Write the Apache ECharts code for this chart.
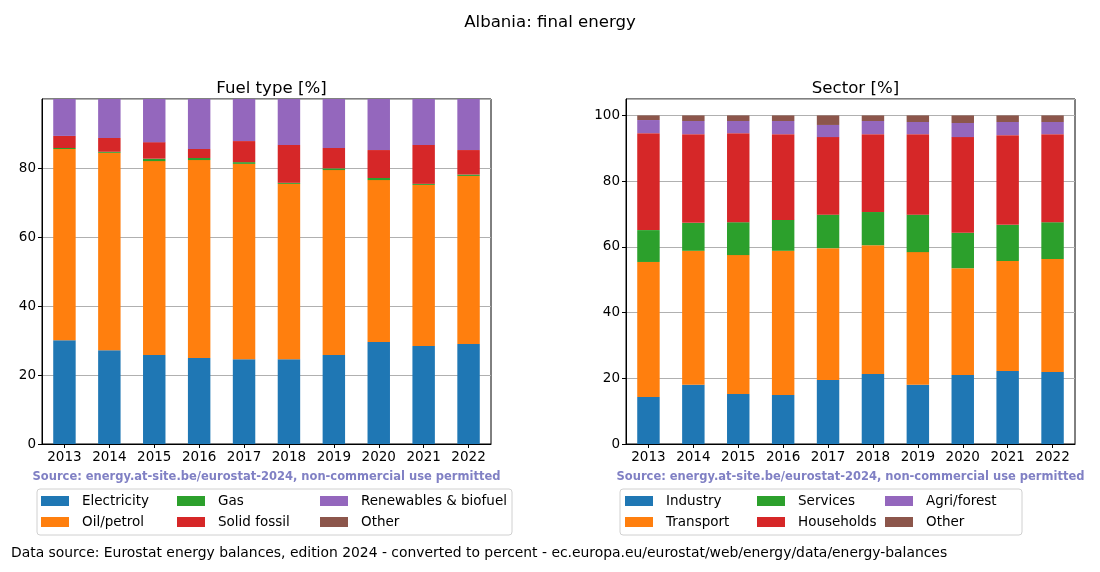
<!DOCTYPE html>
<html><head><meta charset="utf-8">
<script src="https://cdn.jsdelivr.net/npm/echarts@6/dist/echarts.min.js"></script>
<style>html,body{margin:0;padding:0;background:#fff}#c{width:1100px;height:572px}</style>
</head><body><div id="c"></div>
<script>
const years = ['2013','2014','2015','2016','2017','2018','2019','2020','2021','2022'];
const fuelNames = ['Electricity','Oil/petrol','Gas','Solid fossil','Renewables & biofuel','Other'];
const electricity = [30.1,27.2,25.8,24.9,24.6,24.6,25.8,29.6,28.4,29.0];
const oilPetrol   = [55.4,57.2,56.2,57.4,56.6,50.8,53.6,46.9,46.7,48.7];
const gas         = [0.3,0.3,0.7,0.6,0.5,0.3,0.5,0.6,0.3,0.4];
const solidFossil = [3.5,4.0,4.8,2.6,6.1,11.0,5.9,8.1,11.3,7.1];
const renewables  = [10.7,11.3,12.5,14.5,12.2,13.3,14.2,14.8,13.3,14.8];
const fuelOther   = [0,0,0,0,0,0,0,0,0,0];

const sectorNames = ['Industry','Transport','Services','Households','Agri/forest','Other'];
const industry   = [14.3,18.0,15.2,14.9,19.5,21.3,18.0,21.0,22.2,21.9];
const transport  = [41.1,40.8,42.3,43.9,40.1,39.2,40.4,32.5,33.5,34.4];
const services   = [9.7,8.5,10.0,9.4,10.2,10.1,11.4,10.8,11.0,11.2];
const households = [29.5,27.0,27.1,26.1,23.6,23.7,24.5,29.1,27.3,26.8];
const agriForest = [4.0,4.0,3.7,4.0,3.7,4.0,3.7,4.3,4.0,3.7];
const sectorOther= [1.4,1.7,1.7,1.7,2.9,1.7,2.0,2.3,2.0,2.0];

const colors = ['#1f77b4','#ff7f0e','#2ca02c','#d62728','#9467bd','#8c564b'];
const FONT = 'DejaVu Sans';
const FS = 13.5;

const fuelData = [electricity,oilPetrol,gas,solidFossil,renewables,fuelOther];
const sectorData = [industry,transport,services,households,agriForest,sectorOther];

function xAxis(gi){
  return {type:'category', gridIndex:gi, data:years, boundaryGap:true,
    axisLine:{show:true,lineStyle:{color:'#000',width:1}},
    axisTick:{show:true,alignWithLabel:true,interval:0,length:4,lineStyle:{color:'#000'}},
    axisLabel:{color:'#000',fontFamily:FONT,fontSize:FS,margin:6,interval:0},
    splitLine:{show:false}};
}
function yAxis(gi,max){
  return {type:'value', gridIndex:gi, min:0, max:max, interval:20,
    axisLine:{show:true,lineStyle:{color:'#000',width:1}},
    axisTick:{show:true,length:4,lineStyle:{color:'#000'}},
    axisLabel:{color:'#000',fontFamily:FONT,fontSize:FS,margin:6,showMaxLabel:false},
    splitLine:{show:true,lineStyle:{color:'#b0b0b0',width:1}}};
}
const series = [];
fuelNames.forEach((n,i)=>series.push({name:n,type:'bar',stack:'fuel',xAxisIndex:0,yAxisIndex:0,
  data:fuelData[i],barWidth:'50%',itemStyle:{color:colors[i]}}));
const sn = sectorNames.map((n,i)=>n+(i===5?' ':''));
sectorNames.forEach((n,i)=>series.push({name:sn[i],type:'bar',stack:'sector',xAxisIndex:1,yAxisIndex:1,
  data:sectorData[i],barWidth:'50%',itemStyle:{color:colors[i]}}));

function legend(names,left,top){
  return {orient:'vertical',left:left,top:top,data:names,itemWidth:28,itemHeight:10,itemGap:7,
    icon:'rect',padding:0,
    textStyle:{color:'#000',fontFamily:FONT,fontSize:FS,padding:[0,0,0,8]}};
}
const legends = [
  legend([fuelNames[0],fuelNames[1]],41,494),
  legend([fuelNames[2],fuelNames[3]],177,494),
  legend([fuelNames[4],fuelNames[5]],320,494),
  legend([sn[0],sn[1]],625,494),
  legend([sn[2],sn[3]],757,494),
  legend([sn[4],sn[5]],885,494)
];

const chart = echarts.init(document.getElementById('c'),null,{renderer:'canvas'});
const srcText = 'Source: energy.at-site.be/eurostat-2024, non-commercial use permitted';
chart.setOption({
  animation:false,
  color:colors,
  title:[
    {text:'Albania: final energy',left:'center',top:9,textStyle:{fontFamily:FONT,fontSize:16.6,fontWeight:'normal',color:'#000'}},
    {text:'Fuel type [%]',left:266.5,top:75,textAlign:'center',textStyle:{fontFamily:FONT,fontSize:16.6,fontWeight:'normal',color:'#000'}},
    {text:'Sector [%]',left:850.5,top:75,textAlign:'center',textStyle:{fontFamily:FONT,fontSize:16.6,fontWeight:'normal',color:'#000'}}
  ],
  grid:[
    {left:42,right:609,top:99,bottom:128,show:true,borderColor:'#000',borderWidth:1,containLabel:false},
    {left:626,right:25,top:99,bottom:128,show:true,borderColor:'#000',borderWidth:1,containLabel:false}
  ],
  xAxis:[xAxis(0),xAxis(1)],
  yAxis:[yAxis(0,100),yAxis(1,105)],
  legend:legends,
  series:series,
  graphic:[
    {type:'text',x:266.5,y:477,style:{text:srcText,
      fontFamily:FONT,fontSize:11.5,fontWeight:'bold',fill:'#8080c4',textAlign:'center',textVerticalAlign:'middle'}},
    {type:'text',x:850.5,y:477,style:{text:srcText,
      fontFamily:FONT,fontSize:11.5,fontWeight:'bold',fill:'#8080c4',textAlign:'center',textVerticalAlign:'middle'}},
    {type:'rect',shape:{x:37,y:489,width:475,height:46,r:3},style:{fill:'none',stroke:'#d0d0d0',lineWidth:1}},
    {type:'rect',shape:{x:620,y:489,width:402,height:46,r:3},style:{fill:'none',stroke:'#d0d0d0',lineWidth:1}},
    {type:'text',x:11,y:553,style:{text:'Data source: Eurostat energy balances, edition 2024 - converted to percent - ec.europa.eu/eurostat/web/energy/data/energy-balances',
      fontFamily:FONT,fontSize:13.9,fill:'#000',textVerticalAlign:'middle'}}
  ]
});
</script></body></html>
